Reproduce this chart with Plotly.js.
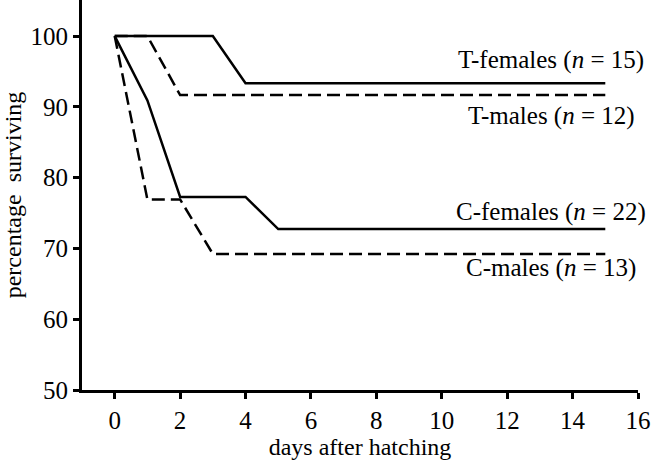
<!DOCTYPE html>
<html>
<head>
<meta charset="utf-8">
<script src="https://cdn.plot.ly/plotly-3.0.1.min.js"></script>
<style>html,body{margin:0;padding:0;background:#fff;}#chart{width:653px;height:461px;}</style>
</head>
<body>
<div id="chart"></div>
<script>
// Data (days after hatching, percentage surviving)
const tFemalesX = [0, 3, 4, 15];
const tFemalesY = [100, 100, 93.33, 93.33];
const tMalesX = [0, 1, 2, 15];
const tMalesY = [100, 100, 91.67, 91.67];
const cFemalesX = [0, 1, 2, 4, 5, 15];
const cFemalesY = [100, 90.91, 77.27, 77.27, 72.73, 72.73];
const cMalesX = [0, 1, 2, 3, 15];
const cMalesY = [100, 76.92, 76.92, 69.23, 69.23];
const seriesLabels = ["T-females (<i>n</i> = 15)", "T-males (<i>n</i> = 12)", "C-females (<i>n</i> = 22)", "C-males (<i>n</i> = 13)"];
const labelY = [96.6, 88.7, 75.1, 67.2];
const xTicks = [0, 2, 4, 6, 8, 10, 12, 14, 16];
const yTicks = [50, 60, 70, 80, 90, 100];

const font = "Liberation Serif";
const solid = {color: "#000", width: 2.5, dash: "solid"};
const dashed = {color: "#000", width: 2.5, dash: "13px,6px"};

const traces = [
  {x: tFemalesX, y: tFemalesY, mode: "lines", line: solid, hoverinfo: "skip"},
  {x: tMalesX, y: tMalesY, mode: "lines", line: dashed, hoverinfo: "skip"},
  {x: cFemalesX, y: cFemalesY, mode: "lines", line: solid, hoverinfo: "skip"},
  {x: cMalesX, y: cMalesY, mode: "lines", line: dashed, hoverinfo: "skip"}
];

const annotations = seriesLabels.map((t, i) => ({
  x: 13.35, y: labelY[i], xref: "x", yref: "y", text: t, showarrow: false,
  xanchor: "center", yanchor: "middle", font: {family: font, size: 25, color: "#000"}
}));

const layout = {
  width: 653, height: 461,
  margin: {l: 82, r: 15, t: 0, b: 71},
  paper_bgcolor: "#fff", plot_bgcolor: "#fff",
  showlegend: false,
  font: {family: font, size: 24, color: "#000"},
  xaxis: {
    range: [-1, 16], tickvals: xTicks, ticktext: xTicks.map(String),
    showgrid: false, zeroline: false, showline: true, linecolor: "#000", linewidth: 3,
    ticks: "outside", ticklen: 6, tickwidth: 3, tickcolor: "#000",
    tickfont: {family: font, size: 25},
    title: {text: "days after hatching", font: {family: font, size: 24}, standoff: 6}
  },
  yaxis: {
    range: [50, 105.1], tickvals: yTicks, ticktext: yTicks.map(String),
    showgrid: false, zeroline: false, showline: true, linecolor: "#000", linewidth: 3,
    ticks: "outside", ticklen: 6, tickwidth: 3, tickcolor: "#000",
    tickfont: {family: font, size: 25},
    title: {text: "percentage&nbsp; surviving", font: {family: font, size: 24}, standoff: 6}
  },
  annotations: annotations
};

Plotly.newPlot("chart", traces, layout, {staticPlot: true, displayModeBar: false});
</script>
</body>
</html>
